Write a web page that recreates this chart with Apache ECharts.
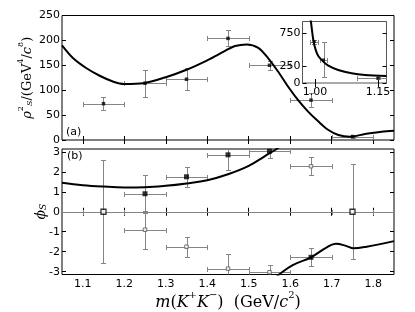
<!DOCTYPE html>
<html><head><meta charset="utf-8">
<script src="https://cdn.jsdelivr.net/npm/echarts@6/dist/echarts.min.js"></script>
<style>html,body{margin:0;padding:0;background:#fff}#c{width:415px;height:312px}</style>
</head><body><div id="c"></div>
<script>
// ---------- data ----------
const binMass = [1.15, 1.25, 1.35, 1.45, 1.55, 1.65, 1.75];
const binHalfWidth = [0.05, 0.05, 0.05, 0.05, 0.05, 0.05, 0.05];
const rho2 = [73, 114, 122, 204, 150, 80, 7];
const rho2Err = [13, 27, 22.5, 16, 9.5, 14, 3];

const fitMassA = [1.05, 1.077, 1.109, 1.142, 1.174, 1.20, 1.246, 1.30, 1.35, 1.40, 1.443, 1.467, 1.495, 1.523, 1.547, 1.571, 1.595, 1.619, 1.643, 1.668, 1.692, 1.716, 1.744, 1.78, 1.82, 1.85];
const fitRho2 = [190, 164, 144, 128.5, 117, 112.5, 114, 126, 141, 160, 179, 188.8, 192, 185, 164, 137, 107, 80, 57, 37, 20, 10, 6.7, 12, 16.7, 18.7];

const insetMass = [0.998, 1.020, 1.15];
const insetHalfWidth = [0.010, 0.008, 0.05];
const insetRho2 = [620, 345, 73];
const insetErr = [30, 262, 13];
const insetFitMass = [0.986, 0.990, 0.9957, 1.0014, 1.0076, 1.0195, 1.0314, 1.055, 1.087, 1.119, 1.17];
const insetFitRho2 = [1100, 920, 645, 495, 405, 320, 260, 195, 145, 120, 105];

const phiMass = [1.25, 1.35, 1.45, 1.55, 1.65];
const phiSolA = [0.9, 1.75, 2.85, 3.03, -2.28];
const phiSolB = [-0.9, -1.75, -2.85, -3.03, 2.28];
const phiErr = [0.95, 0.5, 0.75, 0.35, 0.45];
const phiRefMass = [1.15, 1.75];
const phiRef = [0, 0];
const phiRefErr = [2.57, 2.37];

const phiFitMassA = [1.05, 1.10, 1.15, 1.20, 1.25, 1.30, 1.35, 1.40, 1.45, 1.50, 1.54, 1.567, 1.58];
const phiFitA = [1.45, 1.33, 1.26, 1.22, 1.23, 1.30, 1.42, 1.58, 1.88, 2.30, 2.80, 3.14, 3.35];
const phiFitMassB = [1.565, 1.573, 1.606, 1.65, 1.688, 1.71, 1.736, 1.752, 1.784, 1.85];
const phiFitB = [-3.3, -3.14, -2.67, -2.28, -1.78, -1.60, -1.72, -1.83, -1.75, -1.47];

const xTicks = [1.1, 1.2, 1.3, 1.4, 1.5, 1.6, 1.7, 1.8];
const rhoTicks = [0, 50, 100, 150, 200, 250];
const phiTicks = [-3, -2, -1, 0, 1, 2, 3];
const insetXTicks = [1.00, 1.15];
const insetYTicks = [0, 250, 750];

// ---------- helpers ----------
const zip2 = (a, b) => a.map((v, i) => [v, b[i]]);
const errData = (xs, ys, xe, ye) => xs.map((v, i) => [v, ys[i], xe[i], ye[i]]);
const GREY = '#858585';
function errRender(params, api) {
  const x = api.value(0), y = api.value(1), xe = api.value(2), ye = api.value(3);
  const c = api.coord([x, y]);
  const l = api.coord([x - xe, y]), r = api.coord([x + xe, y]);
  const t = api.coord([x, y + ye]), b = api.coord([x, y - ye]);
  const cx = Math.round(c[0]) + 0.5, cy = Math.round(c[1]) + 0.5;
  const cap = 2.5;
  const st = {stroke: GREY, lineWidth: 1, fill: null};
  const L = (x1, y1, x2, y2) => ({type: 'line', shape: {x1, y1, x2, y2}, style: st});
  const lx = Math.round(l[0]) + 0.5, rx = Math.round(r[0]) + 0.5;
  const ty = Math.round(t[1]) + 0.5, by = Math.round(b[1]) + 0.5;
  return {type: 'group', children: [
    L(lx, cy, rx, cy), L(cx, ty, cx, by),
    L(lx, cy - cap, lx, cy + cap), L(rx, cy - cap, rx, cy + cap),
    L(cx - cap, ty, cx + cap, ty), L(cx - cap, by, cx + cap, by)
  ]};
}
const FONT = 'DejaVu Sans';
const MATH = 'DejaVu Serif';
const tickStyle = {show: true, inside: true, length: 4, lineStyle: {color: '#000', width: 1}};
function xAx(grid, min, max, ticks, showLabels, pos, extra) {
  return Object.assign({
    type: 'value', gridIndex: grid, min, max, position: pos,
    axisLine: {show: false}, splitLine: {show: false},
    axisTick: Object.assign({}, tickStyle, {customValues: ticks}),
    axisLabel: {show: showLabels, customValues: ticks, margin: 4, color: '#000', fontFamily: FONT, fontSize: 11,
      formatter: v => (grid === 2 ? v.toFixed(2) : v.toFixed(1))}
  }, extra || {});
}
function yAx(grid, min, max, ticks, showLabels, pos, extra) {
  return Object.assign({
    type: 'value', gridIndex: grid, min, max, position: pos,
    axisLine: {show: false}, splitLine: {show: false},
    axisTick: Object.assign({}, tickStyle, {customValues: ticks}),
    axisLabel: {show: showLabels, customValues: ticks, margin: 2, color: '#000', fontFamily: FONT, fontSize: 11,
      formatter: v => String(v)}
  }, extra || {});
}

const option = {
  animation: false,
  backgroundColor: '#fff',
  grid: [
    {left: 62, right: 21, top: 15.5, bottom: 172, show: true, borderColor: '#000', borderWidth: 1, backgroundColor: 'transparent'},
    {left: 62, right: 21, top: 149, bottom: 37.5, show: true, borderColor: '#000', borderWidth: 1, backgroundColor: 'transparent'},
    {left: 302.5, right: 28.5, top: 21.5, bottom: 229, show: true, borderColor: '#555', borderWidth: 1, backgroundColor: '#fff', z: 10}
  ],
  xAxis: [
    xAx(0, 1.05, 1.85, xTicks, false, 'bottom'),
    xAx(0, 1.05, 1.85, xTicks, false, 'top'),
    xAx(1, 1.05, 1.85, xTicks, true, 'bottom', {
      name: '{i|m}{r|(}{i|K}{sup|+}{i|K}{sup|−}{r|)  (GeV/}{i|c}{sup|2}{r|)}',
      nameLocation: 'middle', nameGap: 16, nameMoveOverlap: false,
      nameTextStyle: {rich: {
        i: {fontFamily: MATH, fontStyle: 'italic', fontSize: 16, color: '#000', lineHeight: 20, verticalAlign: 'bottom'},
        r: {fontFamily: MATH, fontSize: 16, color: '#000', lineHeight: 20, verticalAlign: 'bottom'},
        sup: {fontFamily: MATH, fontSize: 10, color: '#000', lineHeight: 20, verticalAlign: 'top'}
      }}
    }),
    xAx(1, 1.05, 1.85, xTicks, false, 'top'),
    xAx(2, 0.97, 1.17, insetXTicks, true, 'bottom', {z: 11}),
    xAx(2, 0.97, 1.17, insetXTicks, false, 'top', {z: 11})
  ],
  yAxis: [
    yAx(0, 0, 250, rhoTicks, true, 'left', {
      name: '{i|ρ}{sup|2}{sub|S}{r|/(GeV}{sup|4}{r|/}{i|c}{sup|8}{r|)}',
      nameLocation: 'middle', nameGap: 28, nameRotate: 90, nameMoveOverlap: false,
      nameTextStyle: {rich: {
        i: {fontFamily: MATH, fontStyle: 'italic', fontSize: 13, color: '#000', lineHeight: 17, verticalAlign: 'bottom'},
        r: {fontFamily: MATH, fontSize: 13, color: '#000', lineHeight: 17, verticalAlign: 'bottom'},
        sup: {fontFamily: MATH, fontSize: 8, color: '#000', lineHeight: 17, verticalAlign: 'top'},
        sub: {fontFamily: MATH, fontStyle: 'italic', fontSize: 8, color: '#000', lineHeight: 17, verticalAlign: 'bottom'}
      }}
    }),
    yAx(0, 0, 250, rhoTicks, false, 'right'),
    yAx(1, -Math.PI, Math.PI, phiTicks, true, 'left', {
      name: '{i|ϕ}{sub|S}',
      nameLocation: 'middle', nameGap: 14, nameRotate: 90, nameMoveOverlap: false,
      nameTextStyle: {rich: {
        i: {fontFamily: MATH, fontStyle: 'italic', fontSize: 14, color: '#000', lineHeight: 18, verticalAlign: 'bottom'},
        sub: {fontFamily: MATH, fontStyle: 'italic', fontSize: 9, color: '#000', lineHeight: 18, verticalAlign: 'bottom'}
      }}
    }),
    yAx(1, -Math.PI, Math.PI, phiTicks, false, 'right'),
    yAx(2, 0, 920, insetYTicks, true, 'left', {z: 11}),
    yAx(2, 0, 920, insetYTicks, false, 'right', {z: 11})
  ],
  graphic: [
    {type: 'text', left: 66, top: 127, style: {text: '(a)', font: '11px "DejaVu Sans"', fill: '#000'}},
    {type: 'text', left: 67, top: 151, style: {text: '(b)', font: '11px "DejaVu Sans"', fill: '#000'}}
  ],
  series: [
    // panel (a)
    {type: 'custom', xAxisIndex: 0, yAxisIndex: 0, clip: true, z: 2, renderItem: errRender,
      data: errData(binMass, rho2, binHalfWidth, rho2Err)},
    {type: 'line', xAxisIndex: 0, yAxisIndex: 0, data: zip2(fitMassA, fitRho2), smooth: 0.3, symbol: 'none',
      lineStyle: {color: '#000', width: 2}, z: 3},
    {type: 'scatter', xAxisIndex: 0, yAxisIndex: 0, data: zip2(binMass, rho2), symbol: 'rect', symbolSize: 3.5,
      itemStyle: {color: '#000'}, z: 4},
    // inset
    {type: 'custom', xAxisIndex: 4, yAxisIndex: 4, clip: true, z: 12, renderItem: errRender,
      data: errData(insetMass, insetRho2, insetHalfWidth, insetErr)},
    {type: 'line', xAxisIndex: 4, yAxisIndex: 4, data: zip2(insetFitMass, insetFitRho2), smooth: 0.3, symbol: 'none',
      lineStyle: {color: '#000', width: 2}, z: 13},
    {type: 'scatter', xAxisIndex: 4, yAxisIndex: 4, data: zip2(insetMass, insetRho2), symbol: 'rect', symbolSize: 3,
      itemStyle: {color: '#000'}, z: 14, clip: true},
    // panel (b)
    {type: 'custom', xAxisIndex: 2, yAxisIndex: 2, clip: true, z: 2, renderItem: errRender,
      data: errData(phiMass, phiSolA, binHalfWidth, phiErr)
        .concat(errData(phiMass, phiSolB, binHalfWidth, phiErr))
        .concat(errData(phiRefMass, phiRef, binHalfWidth, phiRefErr)),
      markLine: {silent: true, symbol: 'none', label: {show: false}, lineStyle: {color: GREY, width: 1, type: 'solid'},
        data: [{yAxis: 0}]}},
    {type: 'line', xAxisIndex: 2, yAxisIndex: 2, data: zip2(phiFitMassA, phiFitA), smooth: 0.4, symbol: 'none',
      lineStyle: {color: '#000', width: 2}, z: 3},
    {type: 'line', xAxisIndex: 2, yAxisIndex: 2, data: zip2(phiFitMassB, phiFitB), smooth: 0.4, symbol: 'none',
      lineStyle: {color: '#000', width: 2}, z: 3},
    {type: 'scatter', xAxisIndex: 2, yAxisIndex: 2, data: zip2(phiMass, phiSolA), symbol: 'rect', symbolSize: 5,
      itemStyle: {color: '#000'}, z: 4, clip: true},
    {type: 'scatter', xAxisIndex: 2, yAxisIndex: 2, data: zip2(phiMass, phiSolB), symbol: 'rect', symbolSize: 3.5,
      itemStyle: {color: '#fff', borderColor: '#555', borderWidth: 1}, z: 4, clip: true},
    {type: 'scatter', xAxisIndex: 2, yAxisIndex: 2, data: zip2(phiRefMass, phiRef), symbol: 'rect', symbolSize: 5,
      itemStyle: {color: '#fff', borderColor: '#000', borderWidth: 1.3}, z: 5}
  ]
};
const chart = echarts.init(document.getElementById('c'), null, {renderer: 'canvas'});
chart.setOption(option);
</script></body></html>
